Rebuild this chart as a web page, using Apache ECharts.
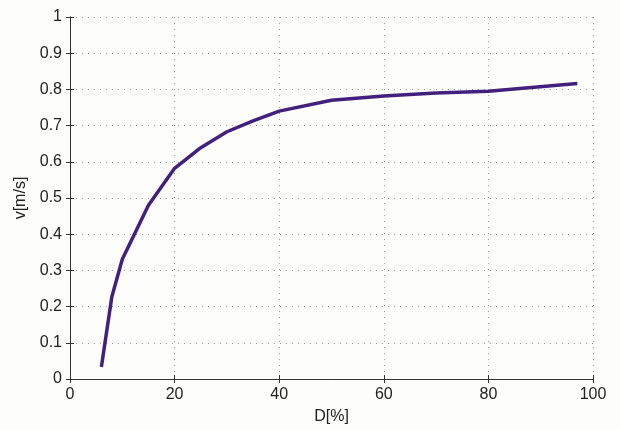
<!DOCTYPE html>
<html>
<head>
<meta charset="utf-8">
<script src="https://cdn.jsdelivr.net/npm/echarts@6/dist/echarts.min.js"></script>
<style>
  html, body { margin: 0; padding: 0; background: #fdfdfb; }
  #chart { width: 620px; height: 430px; }
</style>
</head>
<body>
<div id="chart"></div>
<script>
// D[%] values and matching velocities
const dValues = [6, 8, 10, 15, 20, 25, 30, 35, 40, 50, 60, 70, 80, 97];
const vValues = [0.033, 0.227, 0.331, 0.48, 0.582, 0.639, 0.683, 0.713, 0.74, 0.77, 0.782, 0.79, 0.795, 0.816];

const points = dValues.map((d, i) => [d, vValues[i]]);

const chart = echarts.init(document.getElementById('chart'));

const labelStyle = { color: '#222', fontSize: 16, fontFamily: 'Liberation Sans, Arial, sans-serif' };
const dotted = { show: true, lineStyle: { color: '#9a9a9a', type: [1, 5], width: 1 } };
const ticks = { show: true, inside: true, length: 4, lineStyle: { color: '#333' } };
const frame = { show: true, lineStyle: { color: '#333', width: 1 } };

chart.setOption({
  backgroundColor: '#fdfdfb',
  animation: false,
  grid: { left: 70, right: 27, top: 17, bottom: 47 },
  xAxis: [
    {
      type: 'value', min: 0, max: 100, interval: 20,
      name: 'D[%]', nameLocation: 'middle', nameGap: 30,
      nameTextStyle: labelStyle,
      axisLine: frame, axisTick: ticks, splitLine: dotted,
      axisLabel: Object.assign({ margin: 8 }, labelStyle)
    },
    {
      type: 'value', min: 0, max: 100, interval: 20, position: 'top',
      axisLine: frame, axisTick: ticks, splitLine: { show: false },
      axisLabel: { show: false }
    }
  ],
  yAxis: [
    {
      type: 'value', min: 0, max: 1, interval: 0.1,
      name: 'v[m/s]', nameLocation: 'middle', nameGap: 38,
      nameTextStyle: labelStyle,
      axisLine: frame, axisTick: ticks, splitLine: dotted,
      axisLabel: Object.assign({ margin: 8 }, labelStyle)
    },
    {
      type: 'value', min: 0, max: 1, interval: 0.1, position: 'right',
      axisLine: frame, axisTick: ticks, splitLine: { show: false },
      axisLabel: { show: false }
    }
  ],
  series: [
    {
      type: 'line',
      data: points,
      showSymbol: false,
      lineStyle: { color: '#43207e', width: 3.5 }
    }
  ]
});
</script>
</body>
</html>
